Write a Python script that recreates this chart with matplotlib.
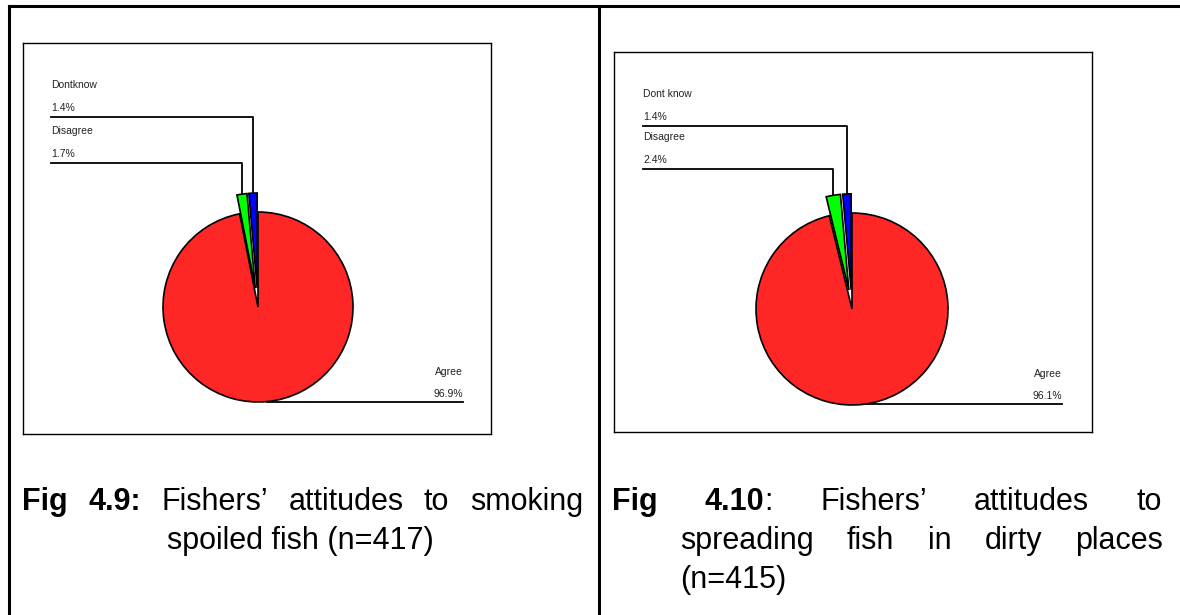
import matplotlib
matplotlib.use('Agg')
import matplotlib.pyplot as plt
import numpy as np

W, H = 1180, 615

# survey responses, percent of fishers
labels_a = ['Agree', 'Disagree', 'Dontknow']
share_a = [96.9, 1.7, 1.4]
labels_b = ['Agree', 'Disagree', 'Dont know']
share_b = [96.1, 2.4, 1.4]
colors = ['#ff2626', '#00ff00', '#0000ff']

plt.rcParams['font.family'] = ['Liberation Sans', 'DejaVu Sans']

fig = plt.figure(figsize=(W / 100, H / 100), dpi=100)
page = fig.add_axes([0, 0, 1, 1])
page.set_xlim(0, W)
page.set_ylim(H, 0)
page.axis('off')
renderer = fig.canvas.get_renderer()

# table rules
page.plot([8.5, 8.5], [5.5, H], color='k', lw=2.2, solid_capstyle='projecting')
page.plot([8.5, W], [5.5, 5.5], color='k', lw=2.2, solid_capstyle='projecting')
page.plot([599, 599], [5.5, H], color='k', lw=2.2)


def pie_panel(box, centre, radius, shares, labels, lead_y, label_x, agree_x):
    x0, y0, x1, y1 = box
    ax = fig.add_axes([x0 / W, 1 - y1 / H, (x1 - x0) / W, (y1 - y0) / H])
    cx, cy = centre[0], H - centre[1]
    pull = 0.2 * radius
    wedges, _ = ax.pie(shares, colors=colors, startangle=90, counterclock=False,
                       explode=[0, pull, pull], radius=radius, center=(cx, cy),
                       frame=True,
                       wedgeprops=dict(edgecolor='k', linewidth=1.2))
    ax.set_xlim(x0, x1)
    ax.set_ylim(H - y1, H - y0)
    ax.set_aspect('auto')
    ax.set_xticks([])
    ax.set_yticks([])
    for s in ax.spines.values():
        s.set_linewidth(1.0)

    # leader lines for the two thin slices
    for i, ly in zip([2, 1], lead_y):
        w = wedges[i]
        th = np.radians((w.theta1 + w.theta2) / 2)
        px = w.center[0] + w.r * np.cos(th)
        py = w.center[1] + w.r * np.sin(th)
        ly = H - ly
        ax.plot([label_x, px, px], [ly, ly, py], color='k', lw=1.3)
        ax.text(label_x, ly + 32, labels[i], fontsize=7.5, va='center', color='#222222')
        ax.text(label_x, ly + 9, f'{shares[i]:.1f}%', fontsize=7.5, va='center', color='#222222')

    # big slice label sits under the pie
    w = wedges[0]
    th = np.radians((w.theta1 + w.theta2) / 2)
    px = w.center[0] + w.r * np.cos(th)
    py = w.center[1] + w.r * np.sin(th)
    ax.plot([px, agree_x], [py, py], color='k', lw=1.3)
    ax.text(agree_x, py + 30, labels[0], fontsize=7.5, va='center', ha='right', color='#222222')
    ax.text(agree_x, py + 8, f'{shares[0]:.1f}%', fontsize=7.5, va='center', ha='right', color='#222222')


pie_panel((23, 43, 491, 434), (258, 307), 95, share_a, labels_a,
          [117, 163], 51, 463)
pie_panel((614, 52, 1092, 432), (852, 309), 96, share_b, labels_b,
          [126, 169], 643, 1062)

CAP = 22


def seg_width(txt, bold, size=CAP):
    t = page.text(0, 0, txt, fontsize=size, fontweight='bold' if bold else 'normal')
    wd = t.get_window_extent(renderer).width
    t.remove()
    return wd


def put_line(words, xl, xr, y, size=CAP):
    # spread the words so the line runs flush from xl to xr
    widths = [sum(seg_width(t, b, size) for t, b in word) for word in words]
    gap = (xr - xl - sum(widths)) / max(len(words) - 1, 1)
    x = xl
    for word, wd in zip(words, widths):
        for t, b in word:
            page.text(x, y, t, fontsize=size, fontweight='bold' if b else 'normal',
                      va='baseline', ha='left')
            x += seg_width(t, b, size)
        x += gap


put_line([[('Fig', True)], [('4.9:', True)], [('Fishers\u2019', False)],
          [('attitudes', False)], [('to', False)], [('smoking', False)]],
         22, 583, 510)
page.text(300, 549, 'spoiled fish (n=417)', fontsize=CAP, ha='center', va='baseline')

put_line([[('Fig', True)], [('4.10', True), (':', False)], [('Fishers\u2019', False)],
          [('attitudes', False)], [('to', False)]],
         612, 1162, 510)
put_line([[('spreading', False)], [('fish', False)], [('in', False)],
          [('dirty', False)], [('places', False)]],
         680, 1163, 549)
page.text(680, 588, '(n=415)', fontsize=CAP, ha='left', va='baseline')

fig.savefig('out.png', dpi=100)
